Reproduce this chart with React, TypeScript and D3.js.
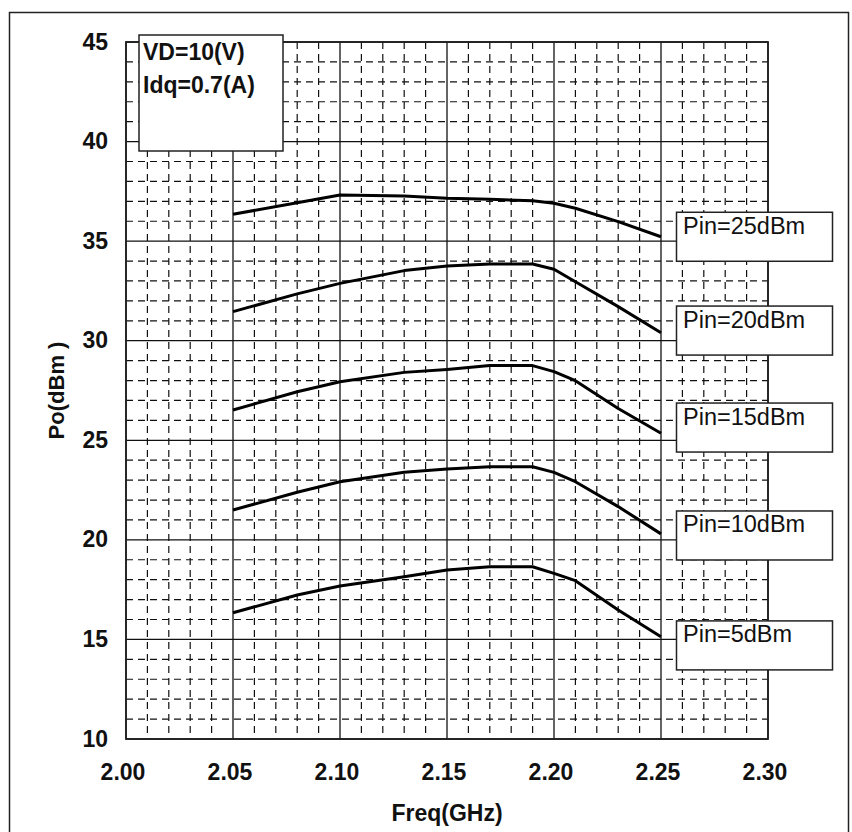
import React from 'react';
import * as d3 from 'd3';

const freqs = [2.05, 2.08, 2.10, 2.13, 2.15, 2.17, 2.19, 2.20, 2.21, 2.23, 2.25];
const pin25 = [36.35, 36.93, 37.32, 37.27, 37.15, 37.1, 37.03, 36.9, 36.65, 35.98, 35.22];
const pin20 = [31.46, 32.35, 32.88, 33.52, 33.75, 33.85, 33.85, 33.59, 32.96, 31.71, 30.4];
const pin15 = [26.52, 27.44, 27.94, 28.41, 28.56, 28.75, 28.75, 28.45, 27.99, 26.6, 25.35];
const pin10 = [21.5, 22.39, 22.92, 23.39, 23.56, 23.67, 23.67, 23.39, 22.92, 21.67, 20.3];
const pin5 = [16.34, 17.23, 17.68, 18.15, 18.49, 18.65, 18.65, 18.32, 17.95, 16.48, 15.13];

const seriesNames = ['Pin=25dBm', 'Pin=20dBm', 'Pin=15dBm', 'Pin=10dBm', 'Pin=5dBm'];
const seriesValues = [pin25, pin20, pin15, pin10, pin5];
// top of each label box, in dBm
const labelTops = [36.45, 31.74, 26.87, 21.45, 15.93];

const xTicks = [2.0, 2.05, 2.1, 2.15, 2.2, 2.25, 2.3];
const yTicks = [10, 15, 20, 25, 30, 35, 40, 45];
const infoLines = ['VD=10(V)', 'Idq=0.7(A)'];

const W = 852, H = 832;
const left = 126, right = 768, top = 42, bottom = 739;

export default function App() {
  const x = d3.scaleLinear().domain([2.0, 2.3]).range([left, right]);
  const y = d3.scaleLinear().domain([10, 45]).range([bottom, top]);

  const minorX = d3.range(0, 31).map(i => 2.0 + i * 0.01).filter((_, i) => i % 5 !== 0);
  const minorY = d3.range(10, 46).filter(v => v % 5 !== 0);

  const line = d3.line<number>()
    .x((_, i) => x(freqs[i]))
    .y(d => y(d));

  const font = 'Arial, "Liberation Sans", sans-serif';

  return (
    <svg width={W} height={H} style={{ position: 'absolute', left: 0, top: 0, background: '#fff' }}>
      <rect x={9.5} y={12.5} width={839} height={850} fill="#fff" stroke="#222" strokeWidth={1.5} />

      {/* minor dashed grid */}
      <g stroke="#111" strokeWidth={1.2} strokeDasharray="7,5">
        {minorX.map((v, i) => (
          <line key={'mx' + i} x1={x(v)} x2={x(v)} y1={top} y2={bottom} />
        ))}
        {minorY.map((v, i) => (
          <line key={'my' + i} x1={left} x2={right} y1={y(v)} y2={y(v)} />
        ))}
      </g>
      {/* major grid */}
      <g stroke="#111" strokeWidth={1.3}>
        {xTicks.map((v, i) => (
          <line key={'Mx' + i} x1={x(v)} x2={x(v)} y1={top} y2={bottom} />
        ))}
        {yTicks.map((v, i) => (
          <line key={'My' + i} x1={left} x2={right} y1={y(v)} y2={y(v)} />
        ))}
      </g>
      <rect x={left} y={top} width={right - left} height={bottom - top} fill="none" stroke="#222" strokeWidth={1.8} />

      {/* curves */}
      {seriesValues.map((vals, i) => (
        <path key={'s' + i} d={line(vals) || ''} fill="none" stroke="#000" strokeWidth={3} strokeLinejoin="round" />
      ))}

      {/* series labels */}
      {seriesNames.map((name, i) => (
        <g key={'l' + i}>
          <rect x={676.5} y={y(labelTops[i])} width={156} height={49} fill="#fff" stroke="#222" strokeWidth={1.5} />
          <text x={683} y={y(labelTops[i]) + 21.5} fontFamily={font} fontSize={23.5} fill="#111">{name}</text>
        </g>
      ))}

      {/* info box */}
      <rect x={139} y={35} width={144} height={116} fill="#fff" stroke="#222" strokeWidth={1.5} />
      {infoLines.map((t, i) => (
        <text key={'i' + i} x={143} y={60 + i * 33} fontFamily={font} fontSize={23} fontWeight="bold" fill="#111">{t}</text>
      ))}

      {/* tick labels */}
      {yTicks.map((v, i) => (
        <text key={'yt' + i} x={108} y={y(v) + 7.5} textAnchor="end" fontFamily={font} fontSize={23} fontWeight="bold" fill="#111">{v}</text>
      ))}
      {xTicks.map((v, i) => (
        <text key={'xt' + i} x={x(v) - 3} y={780} textAnchor="middle" fontFamily={font} fontSize={23} fontWeight="bold" fill="#111">{v.toFixed(2)}</text>
      ))}

      <text x={(left + right) / 2} y={821} textAnchor="middle" fontFamily={font} fontSize={23} fontWeight="bold" fill="#111">Freq(GHz)</text>
      <text transform={`translate(64,${(top + bottom) / 2}) rotate(-90)`} textAnchor="middle" fontFamily={font} fontSize={22} fontWeight="bold" fill="#111">Po(dBm )</text>
    </svg>
  );
}
